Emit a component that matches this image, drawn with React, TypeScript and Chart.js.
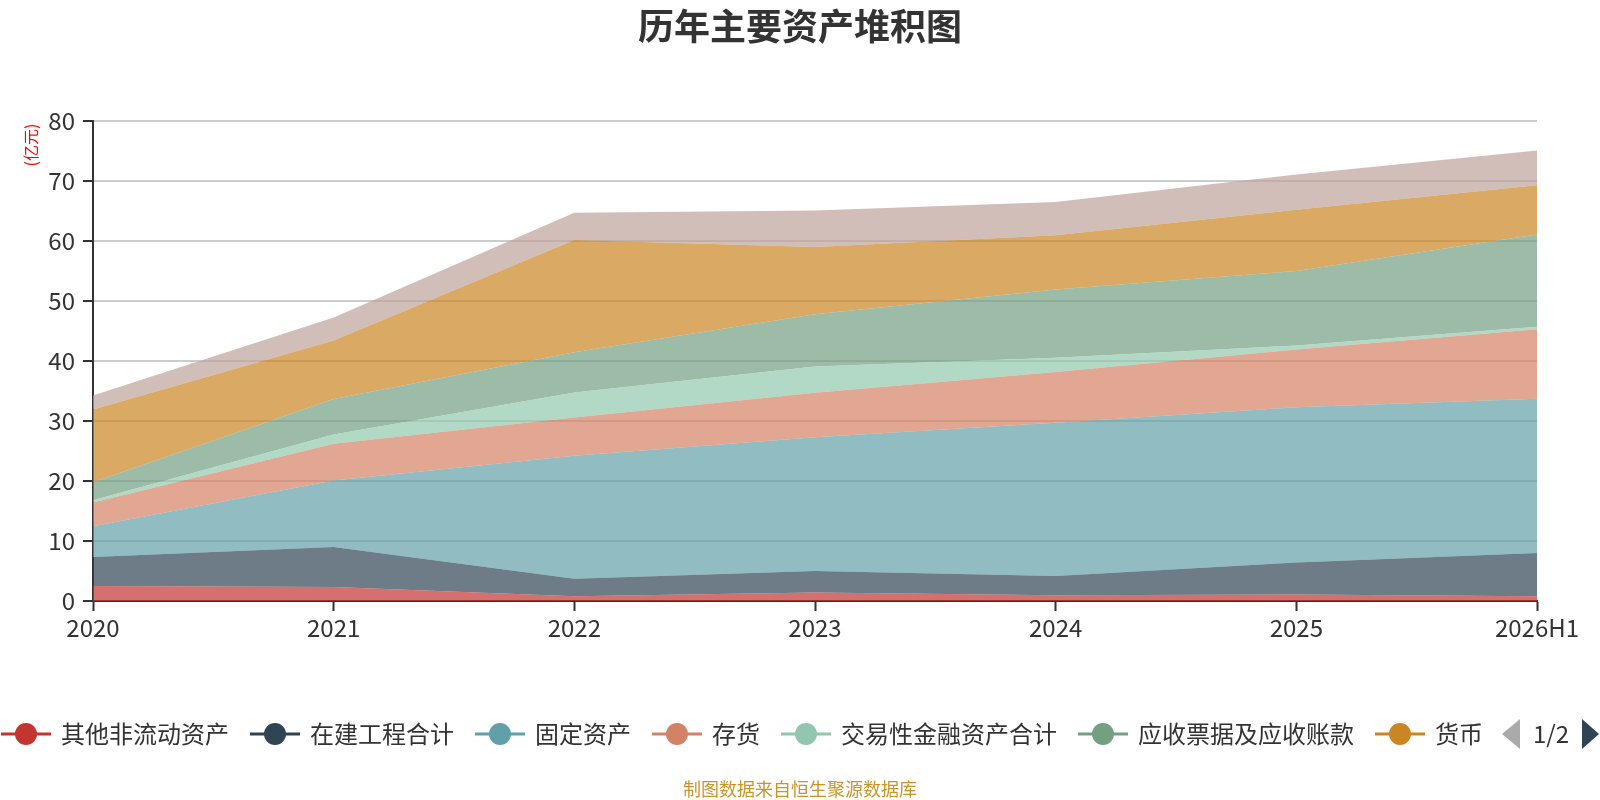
import React, { useEffect, useRef } from 'react';
import { Chart, registerables } from 'chart.js';

Chart.register(...registerables);

const FONT = "'Noto Sans CJK SC', 'Noto Sans', sans-serif";

const title = '历年主要资产堆积图';
const unitLabel = '(亿元)';
const footer = '制图数据来自恒生聚源数据库';

const categories = ['2020', '2021', '2022', '2023', '2024', '2025', '2026H1'];

const otherNonCurrentAssets = [2.5, 2.35, 0.8, 1.4, 0.95, 1.1, 0.8];
const constructionInProgress = [4.85, 6.65, 2.9, 3.6, 3.2, 5.3, 7.2];
const fixedAssets = [5.1, 11.1, 20.5, 22.3, 25.55, 25.9, 25.7];
const inventory = [3.95, 6.1, 6.4, 7.4, 8.45, 9.6, 11.6];
const tradingFinancialAssets = [0.4, 1.55, 4.15, 4.4, 2.4, 0.7, 0.4];
const receivables = [3.0, 5.9, 6.7, 8.7, 11.35, 12.4, 15.4];
const monetaryFunds = [12.1, 9.75, 18.7, 11.2, 9.05, 10.2, 8.2];
const otherAssets = [2.35, 3.85, 4.55, 6.1, 5.55, 5.9, 5.8];

const seriesNames = [
  '其他非流动资产',
  '在建工程合计',
  '固定资产',
  '存货',
  '交易性金融资产合计',
  '应收票据及应收账款',
  '货币',
  '其他',
];
const seriesValues = [
  otherNonCurrentAssets,
  constructionInProgress,
  fixedAssets,
  inventory,
  tradingFinancialAssets,
  receivables,
  monetaryFunds,
  otherAssets,
];
const seriesColors = ['#c23531', '#2f4554', '#61a0a8', '#d48265', '#91c7ae', '#749f83', '#ca8622', '#bda29a'];
const legendVisibleCount = 7;
const legendPageText = '1/2';

const yMin = 0;
const yMax = 80;
const yStep = 10;

function hexToRgba(hex: string, a: number) {
  const n = parseInt(hex.slice(1), 16);
  return `rgba(${(n >> 16) & 255},${(n >> 8) & 255},${n & 255},${a})`;
}

const overlayPlugin = {
  id: 'overlay',
  afterDraw(chart: any) {
    const ctx: CanvasRenderingContext2D = chart.ctx;
    ctx.save();
    // title
    ctx.fillStyle = '#333';
    ctx.textAlign = 'center';
    ctx.textBaseline = 'middle';
    ctx.font = `bold 36px ${FONT}`;
    ctx.fillText(title, 800, 26);

    // y-axis unit
    ctx.save();
    ctx.translate(31, 145);
    ctx.rotate(-Math.PI / 2);
    ctx.font = `16px ${FONT}`;
    ctx.fillStyle = '#ff0000';
    ctx.fillText(unitLabel, 0, 0);
    ctx.restore();

    // legend
    const ly = 734;
    ctx.font = `24px ${FONT}`;
    ctx.textAlign = 'left';
    let x = 1;
    const ds = chart.data.datasets;
    for (let i = 0; i < legendVisibleCount; i++) {
      const color = ds[i].borderColor;
      ctx.strokeStyle = color;
      ctx.lineWidth = 3;
      ctx.beginPath();
      ctx.moveTo(x, ly);
      ctx.lineTo(x + 50, ly);
      ctx.stroke();
      ctx.fillStyle = color;
      ctx.beginPath();
      ctx.arc(x + 25, ly, 11, 0, Math.PI * 2);
      ctx.fill();
      ctx.fillStyle = '#333';
      ctx.fillText(ds[i].label, x + 60, ly);
      x += 60 + ctx.measureText(ds[i].label).width + 21;
    }
    // page controls
    ctx.fillStyle = '#aaa';
    ctx.beginPath();
    ctx.moveTo(1520, ly - 15);
    ctx.lineTo(1520, ly + 15);
    ctx.lineTo(1502, ly);
    ctx.closePath();
    ctx.fill();
    ctx.fillStyle = '#333';
    ctx.fillText(legendPageText, 1533, ly);
    ctx.fillStyle = '#2f4554';
    ctx.beginPath();
    ctx.moveTo(1582, ly - 15);
    ctx.lineTo(1582, ly + 15);
    ctx.lineTo(1599, ly);
    ctx.closePath();
    ctx.fill();

    // footer
    ctx.textAlign = 'center';
    ctx.font = `18px ${FONT}`;
    ctx.fillStyle = '#c9952a';
    ctx.fillText(footer, 800, 789);
    ctx.restore();
  },
};

export default function App() {
  const ref = useRef<HTMLCanvasElement | null>(null);

  useEffect(() => {
    if (!ref.current) return;
    const chart = new Chart(ref.current, {
      type: 'line',
      data: {
        labels: categories,
        datasets: seriesNames.map((name, i) => ({
          label: name,
          data: seriesValues[i],
          borderColor: seriesColors[i],
          backgroundColor: hexToRgba(seriesColors[i], 0.7),
          borderWidth: 0,
          pointRadius: 0,
          pointHoverRadius: 0,
          tension: 0,
          fill: i === 0 ? 'origin' : '-1',
        })),
      },
      options: {
        responsive: false,
        animation: false,
        events: [],
        layout: { padding: { left: 0, right: 63, top: 121, bottom: 0 } },
        plugins: {
          legend: { display: false },
          title: { display: false },
          tooltip: { enabled: false },
        },
        scales: {
          x: {
            offset: false,
            z: 1,
            grid: {
              drawOnChartArea: false,
              drawTicks: true,
              tickLength: 10,
              tickWidth: 2,
              tickColor: '#333',
            },
            border: { color: '#333', width: 2 },
            ticks: {
              autoSkip: false,
              maxRotation: 0,
              padding: 2,
              color: '#333',
              font: { family: FONT, size: 24 },
            },
            afterFit: (scale: any) => {
              scale.height = 199;
            },
          },
          y: {
            stacked: true,
            min: yMin,
            max: yMax,
            grid: {
              color: '#cccccc',
              lineWidth: 2,
              tickLength: 10,
              tickWidth: 2,
              tickColor: '#333',
            },
            border: { color: '#333', width: 2 },
            ticks: {
              stepSize: yStep,
              padding: 8,
              color: '#333',
              font: { family: FONT, size: 24 },
            },
            afterFit: (scale: any) => {
              scale.width = 93;
            },
          },
        },
      },
      plugins: [overlayPlugin],
    });
    return () => chart.destroy();
  }, []);

  return (
    <div style={{ position: 'absolute', left: 0, top: 0, width: 1600, height: 800, background: '#fff' }}>
      <canvas ref={ref} width={1600} height={800} style={{ display: 'block' }} />
    </div>
  );
}
